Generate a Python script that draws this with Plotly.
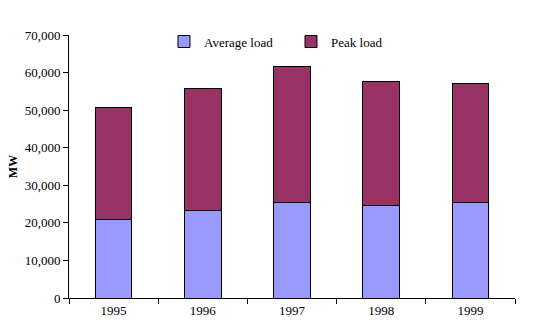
import plotly.graph_objects as go

years = ["1995", "1996", "1997", "1998", "1999"]
average_load = [21000, 23200, 25500, 24600, 25400]
peak_load = [50800, 55700, 61700, 57500, 57000]
y_ticks = [0, 10000, 20000, 30000, 40000, 50000, 60000, 70000]
y_tick_labels = ["0", "10,000", "20,000", "30,000", "40,000", "50,000", "60,000", "70,000"]

peak_segment = [p - a for p, a in zip(peak_load, average_load)]

font = "Liberation Serif, Times New Roman, serif"

fig = go.Figure()
fig.add_trace(go.Bar(x=years, y=average_load, name="Average load",
                     marker=dict(color="#9999FF", line=dict(color="black", width=1))))
fig.add_trace(go.Bar(x=years, y=peak_segment, name="Peak load",
                     marker=dict(color="#993366", line=dict(color="black", width=1))))

fig.update_layout(
    barmode="stack",
    bargap=0.59,
    width=560, height=336,
    margin=dict(l=69, r=45, t=35, b=38),
    paper_bgcolor="white", plot_bgcolor="white",
    font=dict(family=font, size=13, color="black"),
    showlegend=True,
    legend=dict(orientation="h", x=0.213, y=0.975, xanchor="left", yanchor="middle",
                traceorder="normal", font=dict(size=13, family=font),
                bgcolor="rgba(0,0,0,0)", itemwidth=30, entrywidth=82),
    xaxis=dict(showline=True, linecolor="black", linewidth=1, ticks="outside",
               tickson="boundaries", ticklen=5, tickcolor="black", showgrid=False,
               tickfont=dict(size=13, family=font)),
    yaxis=dict(range=[0, 70000], tickvals=y_ticks, ticktext=y_tick_labels,
               showline=True, linecolor="black", linewidth=1, ticks="outside",
               ticklen=5, tickcolor="black", showgrid=False, zeroline=False,
               tickfont=dict(size=13, family=font),
               title=dict(text="<b>MW</b>", font=dict(size=12, family=font), standoff=4)),
)

fig.write_html("out.html")
